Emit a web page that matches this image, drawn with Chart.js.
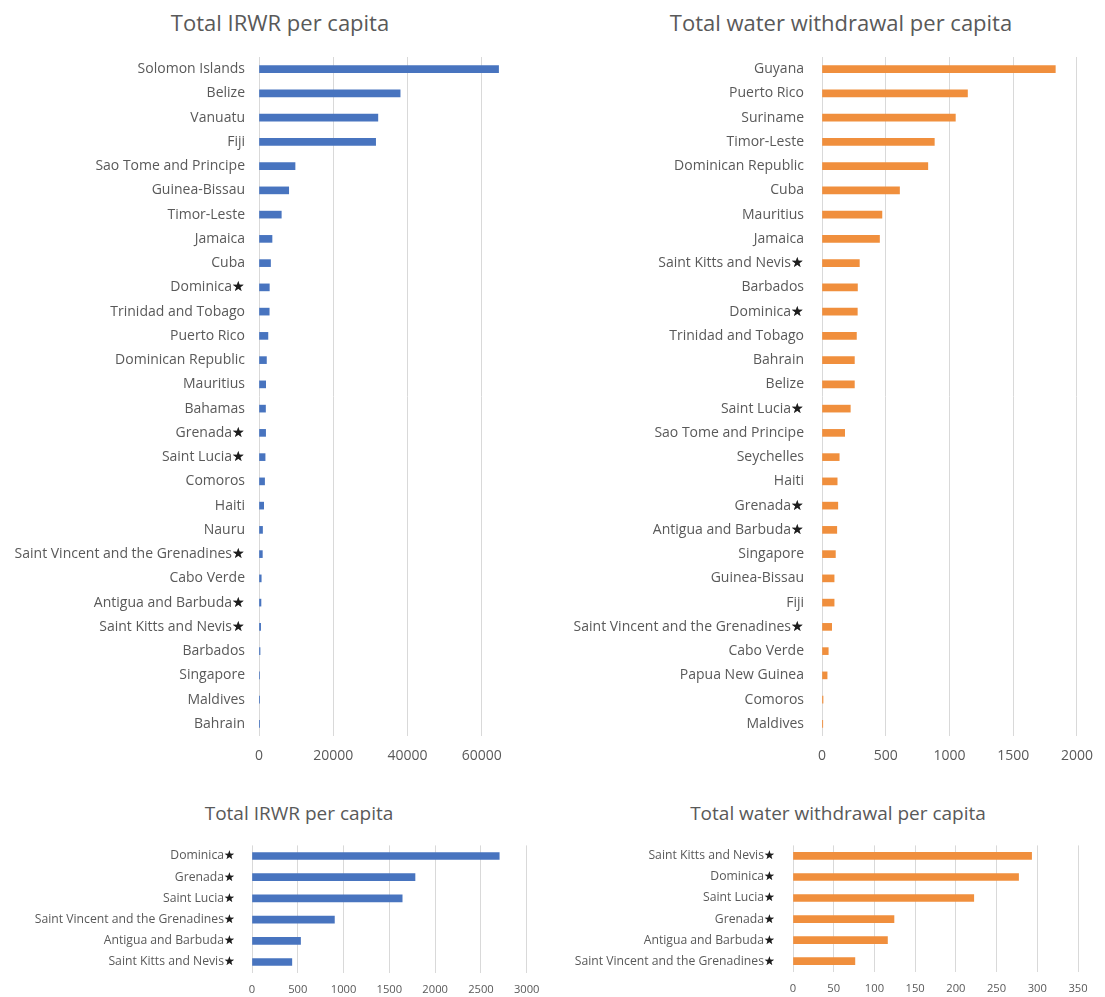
<!DOCTYPE html>
<html lang="en">
<head>
  <meta charset="UTF-8">
  <title>IRWR and water withdrawal per capita</title>
  <script src="https://cdn.jsdelivr.net/npm/chart.js"></script>
  <style>
    body {
      margin: 0;
      padding: 0;
      background: #ffffff;
      font-family: "Open Sans", sans-serif;
    }
    .box {
      position: absolute;
    }
    .title {
      position: absolute;
      transform: translateX(-50%);
      white-space: nowrap;
      color: #595959;
      font-family: "Open Sans", sans-serif;
    }
    .big { font-size: 22px; line-height: 26px; }
    .small { font-size: 19px; line-height: 22px; }
  </style>
</head>
<body>

  <div class="title big" style="left:280px; top:9px;">Total IRWR per capita</div>
  <div class="title big" style="left:841px; top:9px;">Total water withdrawal per capita</div>
  <div class="title small" style="left:299px; top:802px;">Total IRWR per capita</div>
  <div class="title small" style="left:838px; top:802px;">Total water withdrawal per capita</div>

  <div class="box" style="left:0; top:0;"><canvas id="irwrChart" width="550" height="780"></canvas></div>
  <div class="box" style="left:550px; top:0;"><canvas id="withdrawalChart" width="555" height="780"></canvas></div>
  <div class="box" style="left:0; top:780px;"><canvas id="sidsIrwrChart" width="550" height="217"></canvas></div>
  <div class="box" style="left:550px; top:780px;"><canvas id="sidsWithdrawalChart" width="555" height="217"></canvas></div>

  <script>
    // Total IRWR per capita (m3/inhab/yr)
    const irwrLabels = [
      "Solomon Islands", "Belize", "Vanuatu", "Fiji", "Sao Tome and Principe",
      "Guinea-Bissau", "Timor-Leste", "Jamaica", "Cuba", "Dominica★",
      "Trinidad and Tobago", "Puerto Rico", "Dominican Republic", "Mauritius", "Bahamas",
      "Grenada★", "Saint Lucia★", "Comoros", "Haiti", "Nauru",
      "Saint Vincent and the Grenadines★", "Cabo Verde", "Antigua and Barbuda★", "Saint Kitts and Nevis★", "Barbados",
      "Singapore", "Maldives", "Bahrain"
    ];
    const irwrValues = [
      64500, 38000, 32000, 31400, 9700,
      8000, 6000, 3500, 3100, 2780,
      2750, 2400, 2000, 1800, 1750,
      1780, 1640, 1500, 1250, 950,
      900, 600, 530, 440, 280,
      110, 70, 3
    ];
    const irwrTicks = [0, 20000, 40000, 60000];

    // Total water withdrawal per capita (m3/inhab/yr)
    const withdrawalLabels = [
      "Guyana", "Puerto Rico", "Suriname", "Timor-Leste", "Dominican Republic",
      "Cuba", "Mauritius", "Jamaica", "Saint Kitts and Nevis★", "Barbados",
      "Dominica★", "Trinidad and Tobago", "Bahrain", "Belize", "Saint Lucia★",
      "Sao Tome and Principe", "Seychelles", "Haiti", "Grenada★", "Antigua and Barbuda★",
      "Singapore", "Guinea-Bissau", "Fiji", "Saint Vincent and the Grenadines★", "Cabo Verde",
      "Papua New Guinea", "Comoros", "Maldives"
    ];
    const withdrawalValues = [
      1830, 1141, 1046, 881, 830,
      608, 470, 451, 293, 278,
      277, 270, 254, 254, 222,
      178, 135, 119, 124, 116,
      105, 95, 95, 76, 49,
      40, 8, 6
    ];
    const withdrawalTicks = [0, 500, 1000, 1500, 2000];

    // Small island states subset (★)
    const sidsIrwrLabels = [
      "Dominica★", "Grenada★", "Saint Lucia★",
      "Saint Vincent and the Grenadines★", "Antigua and Barbuda★", "Saint Kitts and Nevis★"
    ];
    const sidsIrwrValues = [2700, 1780, 1640, 900, 530, 435];
    const sidsIrwrTicks = [0, 500, 1000, 1500, 2000, 2500, 3000];

    const sidsWithdrawalLabels = [
      "Saint Kitts and Nevis★", "Dominica★", "Saint Lucia★",
      "Grenada★", "Antigua and Barbuda★", "Saint Vincent and the Grenadines★"
    ];
    const sidsWithdrawalValues = [293, 277, 222, 124, 116, 76];
    const sidsWithdrawalTicks = [0, 50, 100, 150, 200, 250, 300, 350];

    const BLUE = "#4874bf";
    const ORANGE = "#f08f3d";
    const TEXT = "#595959";
    const GRID = "#d9d9d9";
    const FONT = "'Open Sans', sans-serif";

    // redraw the ★ at the end of a category label in black
    const starPlugin = {
      id: "blackStar",
      afterDraw(chart) {
        const scale = chart.scales.y;
        const opts = scale.options.ticks;
        const ctx = chart.ctx;
        ctx.save();
        ctx.font = opts.font.size + "px " + FONT;
        ctx.fillStyle = "#1e1e1e";
        ctx.textAlign = "right";
        ctx.textBaseline = "middle";
        scale.ticks.forEach((t, i) => {
          const label = chart.data.labels[i];
          if (label.endsWith("★")) {
            ctx.fillText("★", scale.right - opts.padding, scale.getPixelForTick(i));
          }
        });
        ctx.restore();
      }
    };

    // one horizontal bar chart, sizes passed in cfg
    function makeBarChart(id, labels, values, ticks, color, cfg) {
      const ctx = document.getElementById(id).getContext("2d");
      return new Chart(ctx, {
        type: "bar",
        data: {
          labels: labels,
          datasets: [{ data: values, backgroundColor: color, barThickness: cfg.bar }]
        },
        options: {
          indexAxis: "y",
          responsive: false,
          animation: false,
          layout: { padding: { left: cfg.left, right: cfg.right, top: cfg.top, bottom: 0 } },
          plugins: {
            legend: { display: false },
            tooltip: { enabled: false },
            title: { display: false }
          },
          scales: {
            x: {
              min: 0,
              max: cfg.max,
              afterBuildTicks: s => { s.ticks = ticks.map(v => ({ value: v })); },
              afterFit: s => { s.height = cfg.xHeight; },
              grid: { color: GRID, drawTicks: false },
              border: { display: false },
              ticks: {
                color: TEXT,
                padding: cfg.xPad,
                font: { family: FONT, size: cfg.xFont },
                maxRotation: 0,
                callback: v => String(v)
              }
            },
            y: {
              afterFit: s => { s.width = cfg.yWidth; },
              grid: { display: false, drawTicks: false },
              border: { display: false },
              ticks: {
                color: TEXT,
                autoSkip: false,
                padding: cfg.yPad,
                font: { family: FONT, size: cfg.yFont }
              }
            }
          }
        },
        plugins: [starPlugin]
      });
    }

    makeBarChart("irwrChart", irwrLabels, irwrValues, irwrTicks, BLUE, {
      bar: 7, left: 3, right: 31, top: 57, max: 70000,
      xHeight: 44, xPad: 12, xFont: 14, yWidth: 256, yPad: 14, yFont: 14
    });

    makeBarChart("withdrawalChart", withdrawalLabels, withdrawalValues, withdrawalTicks, ORANGE, {
      bar: 7, left: 8, right: 18, top: 57, max: 2000,
      xHeight: 44, xPad: 12, xFont: 14, yWidth: 264, yPad: 18, yFont: 14
    });

    makeBarChart("sidsIrwrChart", sidsIrwrLabels, sidsIrwrValues, sidsIrwrTicks, BLUE, {
      bar: 7, left: 20, right: 17, top: 65.4, max: 3000,
      xHeight: 24.4, xPad: 10.5, xFont: 11.2, yWidth: 232, yPad: 17, yFont: 12.2
    });

    makeBarChart("sidsWithdrawalChart", sidsWithdrawalLabels, sidsWithdrawalValues, sidsWithdrawalTicks, ORANGE, {
      bar: 7, left: 14, right: 27, top: 65.4, max: 350,
      xHeight: 24.4, xPad: 10.5, xFont: 11.2, yWidth: 229, yPad: 18, yFont: 12.2
    });
  </script>
</body>
</html>
